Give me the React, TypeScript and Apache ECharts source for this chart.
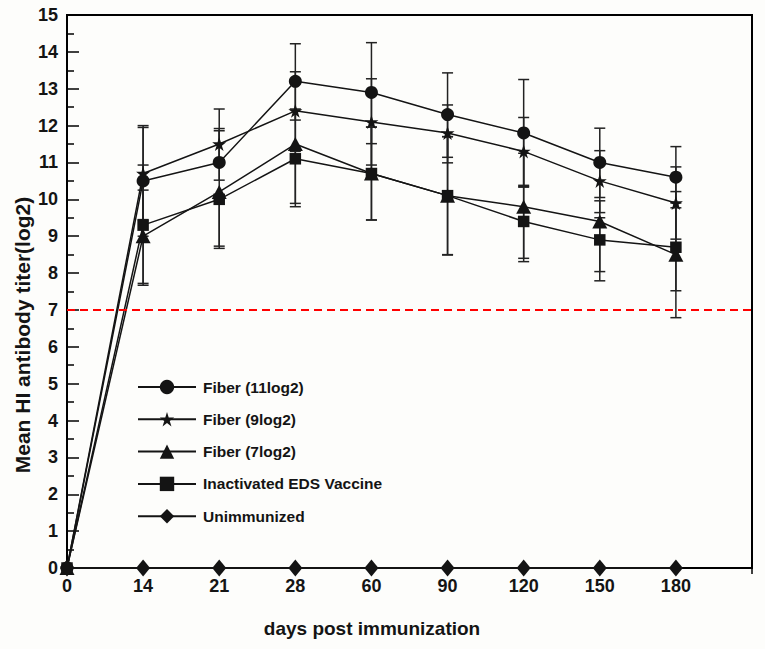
import React, { useEffect, useRef } from 'react';
import * as echarts from 'echarts';

const dayLabels = ['0', '14', '21', '28', '60', '90', '120', '150', '180', ''];
const yTicks = [0, 15, 1];
const THRESHOLD = 7;

const seriesNames = ['Fiber (11log2)', 'Fiber (9log2)', 'Fiber (7log2)', 'Inactivated EDS Vaccine', 'Unimmunized'];

const fiber11 = [0, 10.5, 11.0, 13.2, 12.9, 12.3, 11.8, 11.0, 10.6];
const fiber9 = [0, 10.7, 11.5, 12.4, 12.1, 11.8, 11.3, 10.5, 9.9];
const fiber7 = [0, 9.0, 10.2, 11.5, 10.7, 10.1, 9.8, 9.4, 8.5];
const vaccine = [0, 9.3, 10.0, 11.1, 10.7, 10.1, 9.4, 8.9, 8.7];
const unimmunized = [0, 0, 0, 0, 0, 0, 0, 0, 0];

const fiber11Low = [null, 9.0, 10.52, 12.15, 11.51, 11.14, 10.35, 10.05, 9.77];
const fiber11High = [null, 12.0, 12.45, 14.22, 14.25, 13.43, 13.25, 11.93, 11.43];
const fiber9Low = [null, 9.45, 11.08, 11.34, 10.93, 10.99, 10.38, 9.64, 8.92];
const fiber9High = [null, 11.95, 11.92, 13.46, 13.27, 12.56, 12.22, 11.32, 10.88];
const fiber7Low = [null, 7.72, 8.67, 9.89, 9.44, 8.49, 8.4, 8.04, 6.79];
const fiber7High = [null, 10.25, 11.86, 12.45, 11.96, 11.7, 11.25, 9.96, 10.21];
const vaccineLow = [null, 7.67, 8.73, 9.8, 9.44, 8.5, 8.31, 7.79, 7.52];
const vaccineHigh = [null, 10.93, 10.1, 11.3, 11.96, 11.7, 10.33, 9.5, 9.9];

const STAR = 'path://M12,0 L14.8,8.4 L23.8,8.4 L16.5,13.7 L19.3,22.3 L12,17 L4.7,22.3 L7.5,13.7 L0.2,8.4 L9.2,8.4 Z';
const INK = '#141414';
const FONT = '"Liberation Sans", Arial, Helvetica, sans-serif';

function errData(low: (number | null)[], high: (number | null)[]) {
  const out: number[][] = [];
  low.forEach((l, i) => {
    const h = high[i];
    if (l != null && h != null) out.push([i, l, h]);
  });
  return out;
}

function errSeries(name: string, low: (number | null)[], high: (number | null)[]) {
  return {
    type: 'custom',
    name,
    z: 1,
    silent: true,
    data: errData(low, high),
    encode: { x: 0, y: [1, 2] },
    renderItem: (params: any, api: any) => {
      const x = api.value(0);
      const lo = api.coord([x, api.value(1)]);
      const hi = api.coord([x, api.value(2)]);
      const w = 5.5;
      const st = { stroke: '#222', lineWidth: 1.5 };
      return {
        type: 'group',
        children: [
          { type: 'line', shape: { x1: lo[0], y1: lo[1], x2: hi[0], y2: hi[1] }, style: st },
          { type: 'line', shape: { x1: lo[0] - w, y1: lo[1], x2: lo[0] + w, y2: lo[1] }, style: st },
          { type: 'line', shape: { x1: hi[0] - w, y1: hi[1], x2: hi[0] + w, y2: hi[1] }, style: st },
        ],
      };
    },
  };
}

function lineSeries(name: string, data: number[], symbol: string, size: any, extra: any = {}) {
  return {
    type: 'line',
    name,
    data,
    z: 3,
    symbol,
    symbolSize: size,
    itemStyle: { color: INK },
    lineStyle: { color: INK, width: 1.5 },
    ...extra,
  };
}

export default function App() {
  const ref = useRef<HTMLDivElement>(null);
  useEffect(() => {
    if (!ref.current) return;
    const chart = echarts.init(ref.current, undefined, { renderer: 'svg' });
    chart.setOption({
      animation: false,
      backgroundColor: '#fdfdfb',
      grid: { left: 67, top: 15, right: 13, bottom: 81, show: true, borderColor: '#000', borderWidth: 2, backgroundColor: 'transparent' },
      xAxis: {
        type: 'category',
        data: dayLabels,
        boundaryGap: false,
        axisLine: { lineStyle: { color: '#000', width: 2 } },
        axisTick: { show: true, length: 6, lineStyle: { color: '#000', width: 1.5 } },
        axisLabel: { color: INK, fontSize: 18, fontWeight: 'bold', fontFamily: FONT, margin: 9 },
        splitLine: { show: false },
      },
      yAxis: {
        type: 'value',
        min: yTicks[0],
        max: yTicks[1],
        interval: yTicks[2],
        axisLine: { show: true, lineStyle: { color: '#000', width: 2 } },
        axisTick: { show: true, inside: true, length: 12, lineStyle: { color: '#000', width: 1.5 } },
        minorTick: { show: true, splitNumber: 2, length: 7, lineStyle: { color: '#000', width: 1.5 } },
        axisLabel: { color: INK, fontSize: 18, fontWeight: 'bold', fontFamily: FONT, margin: 9 },
        splitLine: { show: false },
      },
      legend: {
        orient: 'vertical',
        left: 137,
        top: 379,
        padding: 0,
        itemWidth: 58,
        itemHeight: 18,
        itemGap: 16.3,
        data: seriesNames,
        textStyle: { color: INK, fontSize: 15.5, fontWeight: 'bold', fontFamily: FONT, padding: [0, 0, 0, 2] },
      },
      graphic: [
        {
          type: 'text',
          x: 22,
          y: 335,
          rotation: Math.PI / 2,
          style: { text: 'Mean HI antibody titer(log2)', font: `bold 21px ${FONT}`, fill: INK, textAlign: 'center', textVerticalAlign: 'middle' },
        },
        {
          type: 'text',
          x: 372,
          y: 628,
          style: { text: 'days post immunization', font: `bold 19px ${FONT}`, fill: INK, textAlign: 'center', textVerticalAlign: 'middle' },
        },
      ],
      series: [
        errSeries('err11', fiber11Low, fiber11High),
        errSeries('err9', fiber9Low, fiber9High),
        errSeries('err7', fiber7Low, fiber7High),
        errSeries('errV', vaccineLow, vaccineHigh),
        lineSeries(seriesNames[0], fiber11, 'circle', 13),
        lineSeries(seriesNames[1], fiber9, STAR, 14),
        lineSeries(seriesNames[2], fiber7, 'triangle', [15, 14]),
        lineSeries(seriesNames[3], vaccine, 'rect', 11.5),
        lineSeries(seriesNames[4], unimmunized, 'diamond', [14, 17], {
          lineStyle: { color: INK, width: 2 },
          markLine: {
            silent: true,
            symbol: 'none',
            label: { show: false },
            lineStyle: { color: '#ff0000', width: 2, type: [8, 5] },
            data: [{ yAxis: THRESHOLD }],
          },
        }),
      ],
    });
    return () => chart.dispose();
  }, []);
  return <div ref={ref} style={{ position: 'fixed', left: 0, top: 0, width: 765, height: 649 }} />;
}
